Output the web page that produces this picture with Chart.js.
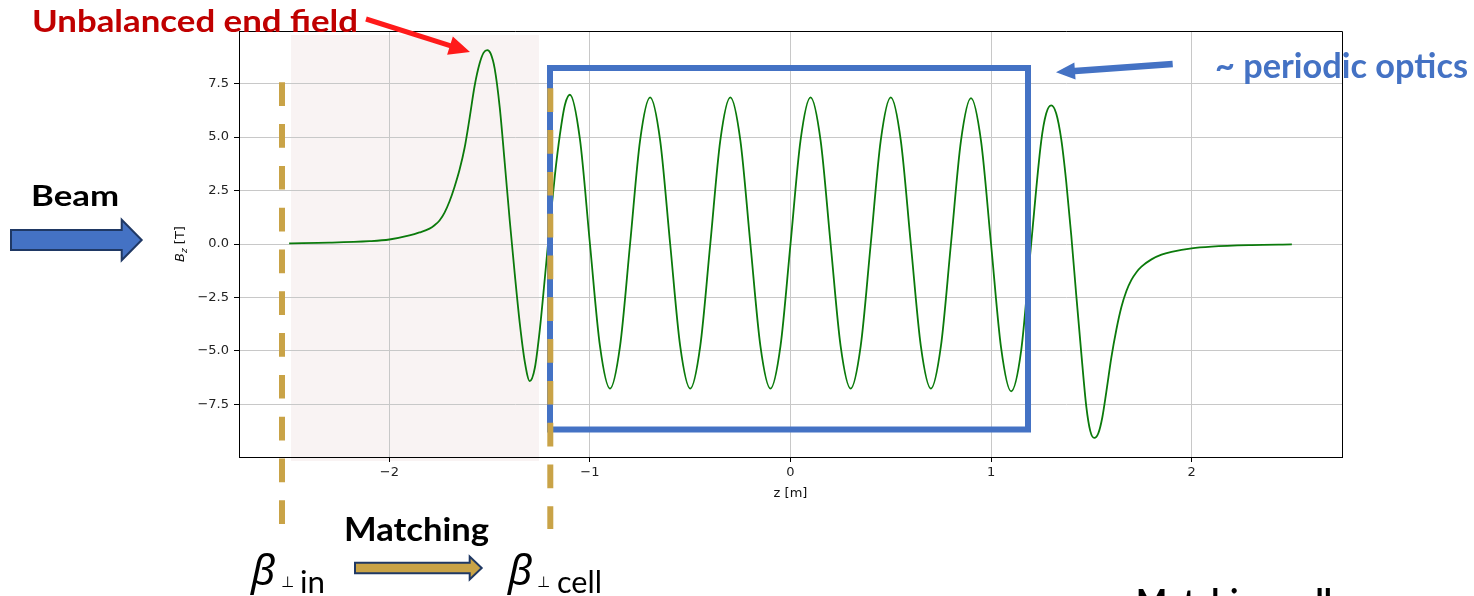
<!DOCTYPE html>
<html>
<head>
<meta charset="utf-8">
<script src="https://cdn.jsdelivr.net/npm/chart.js@4/dist/chart.umd.min.js"></script>
<style>
  html, body { margin: 0; padding: 0; background: #fff; }
  #wrap { width: 1474px; height: 596px; }
</style>
</head>
<body>
<div id="wrap"><canvas id="grafico" width="1474" height="596"></canvas></div>
<script>
// Posições ao longo do eixo [m] //
const zPos = [
  -2.5, -2.3, -2.1, -2.0, -1.9, -1.85, -1.8, -1.775, -1.75, -1.725, -1.7, -1.675, -1.65, -1.625, -1.6,
  -1.575, -1.55, -1.53, -1.512, -1.495, -1.475, -1.45, -1.425, -1.4, -1.375, -1.35, -1.325, -1.3,
  -1.275, -1.25, -1.225, -1.2, -1.175, -1.15, -1.125, -1.1, -1.05,
  -1.0, -0.95, -0.9, -0.85, -0.8, -0.75, -0.7, -0.65, -0.6, -0.55, -0.5, -0.45, -0.4, -0.35, -0.3,
  -0.25, -0.2, -0.15, -0.1, -0.05, 0.0, 0.05, 0.1, 0.15, 0.2, 0.25, 0.3, 0.35, 0.4, 0.45, 0.5, 0.55,
  0.6, 0.65, 0.7, 0.75, 0.8, 0.85, 0.9, 0.95, 1.0, 1.05, 1.1, 1.15, 1.2, 1.25, 1.275, 1.3, 1.325,
  1.35, 1.375, 1.4, 1.425, 1.45, 1.475, 1.495, 1.515, 1.535, 1.555, 1.575, 1.6, 1.625, 1.65, 1.675,
  1.7, 1.725, 1.75, 1.8, 1.85, 1.9, 2.0, 2.1, 2.3, 2.5
];
// Campo Bz [T] //
const bzCampo = [
  0.03, 0.06, 0.13, 0.21, 0.40, 0.54, 0.72, 0.88, 1.1, 1.47, 2.0, 2.68, 3.48, 4.5, 5.9,
  7.4, 8.45, 8.95, 9.07, 8.9, 8.2, 6.4, 3.8, 1.1, -1.4, -3.7, -5.5, -6.41,
  -5.8, -4.0, -1.6, 0.9, 3.2, 5.1, 6.5, 6.98, 4.9,
  0.0, -4.78, -6.76, -4.78, 0.0, 4.85, 6.86, 4.85, 0.0, -4.78, -6.76, -4.78, 0.0, 4.85, 6.86,
  4.85, 0.0, -4.78, -6.76, -4.78, 0.0, 4.85, 6.86, 4.85, 0.0, -4.78, -6.76, -4.78, 0.0, 4.85, 6.86, 4.85,
  0.0, -4.78, -6.76, -4.78, 0.0, 4.82, 6.82, 4.82, 0.0, -4.85, -6.89, -5.0, 0.0, 4.8, 6.1, 6.48, 6.1,
  4.9, 2.9, 0.4, -2.4, -5.1, -7.6, -8.75, -9.07, -8.85, -8.1, -6.9, -5.3, -4.0, -2.95, -2.2,
  -1.68, -1.32, -1.06, -0.72, -0.5, -0.37, -0.2, -0.12, -0.05, -0.02
];
const xTicks = [-2, -1, 0, 1, 2];
const yTicks = [-7.5, -5.0, -2.5, 0.0, 2.5, 5.0, 7.5];

const fonteEixo = { family: 'DejaVu Sans', size: 13 };
function comMenos(s) { return String(s).replace('-', '\u2212'); }

// Texto esticado para uma largura fixa //
function textoLargura(ctx, txt, x, y, w, font, cor) {
  ctx.save();
  ctx.font = font;
  ctx.fillStyle = cor;
  ctx.textBaseline = 'alphabetic';
  ctx.textAlign = 'left';
  const m = ctx.measureText(txt).width;
  ctx.translate(x, y);
  ctx.scale(w / m, 1);
  ctx.fillText(txt, 0, 0);
  ctx.restore();
}

// Seta fina com ponta triangular //
function seta(ctx, x0, y0, x1, y1, larg, compPonta, meiaPonta, cor) {
  const a = Math.atan2(y1 - y0, x1 - x0);
  const L = Math.hypot(x1 - x0, y1 - y0);
  ctx.save();
  ctx.translate(x0, y0);
  ctx.rotate(a);
  ctx.fillStyle = cor;
  ctx.beginPath();
  ctx.moveTo(0, -larg / 2);
  ctx.lineTo(L - compPonta, -larg / 2);
  ctx.lineTo(L - compPonta, -meiaPonta);
  ctx.lineTo(L, 0);
  ctx.lineTo(L - compPonta, meiaPonta);
  ctx.lineTo(L - compPonta, larg / 2);
  ctx.lineTo(0, larg / 2);
  ctx.closePath();
  ctx.fill();
  ctx.restore();
}

// Seta de bloco (com contorno) //
function setaBloco(ctx, x0, x1, yc, meiaHaste, meiaPonta, compPonta, fundo, contorno) {
  ctx.save();
  ctx.beginPath();
  ctx.moveTo(x0, yc - meiaHaste);
  ctx.lineTo(x1 - compPonta, yc - meiaHaste);
  ctx.lineTo(x1 - compPonta, yc - meiaPonta);
  ctx.lineTo(x1, yc);
  ctx.lineTo(x1 - compPonta, yc + meiaPonta);
  ctx.lineTo(x1 - compPonta, yc + meiaHaste);
  ctx.lineTo(x0, yc + meiaHaste);
  ctx.closePath();
  ctx.fillStyle = fundo;
  ctx.fill();
  ctx.lineWidth = 2;
  ctx.strokeStyle = contorno;
  ctx.lineJoin = 'miter';
  ctx.stroke();
  ctx.restore();
}

function tracejado(ctx, x, y0, y1, cor) {
  ctx.save();
  ctx.strokeStyle = cor;
  ctx.lineWidth = 6;
  ctx.setLineDash([23.7, 18.1]);
  ctx.beginPath();
  ctx.moveTo(x, y0);
  ctx.lineTo(x, y1);
  ctx.stroke();
  ctx.restore();
}

const fundoPlugin = {
  id: 'fundo',
  beforeDraw(chart) {
    const ctx = chart.ctx;
    ctx.save();
    ctx.fillStyle = '#ffffff';
    ctx.fillRect(0, 0, chart.width, chart.height);
    // região do campo de borda //
    ctx.fillStyle = '#f9f3f3';
    ctx.fillRect(291, 35, 248, 426);
    ctx.restore();
  }
};

const anotacoes = {
  id: 'anotacoes',
  afterDraw(chart) {
    const ctx = chart.ctx;
    const a = chart.chartArea;
    const azul = '#4472c4';
    const ouro = '#c9a347';
    const marinho = '#1f3864';

    // moldura superior e direita //
    ctx.save();
    ctx.strokeStyle = '#000';
    ctx.lineWidth = 1;
    ctx.beginPath();
    ctx.moveTo(Math.round(a.left) + 0.5, Math.round(a.top) + 0.5);
    ctx.lineTo(Math.round(a.right) + 0.5, Math.round(a.top) + 0.5);
    ctx.lineTo(Math.round(a.right) + 0.5, Math.round(a.bottom) + 0.5);
    ctx.stroke();
    ctx.restore();

    // títulos dos eixos //
    ctx.save();
    ctx.fillStyle = '#111';
    ctx.font = '13px "DejaVu Sans"';
    ctx.textAlign = 'center';
    ctx.textBaseline = 'alphabetic';
    ctx.fillText('z [m]', (a.left + a.right) / 2, 497);
    ctx.translate(184, (a.top + a.bottom) / 2);
    ctx.rotate(-Math.PI / 2);
    ctx.textAlign = 'left';
    const fB = 'italic 13px "DejaVu Sans"', fZ = 'italic 9px "DejaVu Sans"', fT = '13px "DejaVu Sans"';
    ctx.font = fB; const wB = ctx.measureText('B').width;
    ctx.font = fZ; const wZ = ctx.measureText('z').width;
    ctx.font = fT; const wT = ctx.measureText(' [T]').width;
    let x = -(wB + wZ + wT) / 2;
    ctx.font = fB; ctx.fillText('B', x, 0); x += wB;
    ctx.font = fZ; ctx.fillText('z', x, 3); x += wZ;
    ctx.font = fT; ctx.fillText(' [T]', x, 0);
    ctx.restore();

    // caixa da óptica periódica //
    ctx.save();
    ctx.strokeStyle = azul;
    ctx.lineWidth = 6;
    ctx.strokeRect(550, 68, 478, 361.5);
    ctx.restore();

    // linhas tracejadas de casamento //
    tracejado(ctx, 282, 82.3, 524, ouro);
    tracejado(ctx, 550.3, 88.3, 529, ouro);

    // setas //
    seta(ctx, 366, 19, 470, 52, 5, 21, 9.5, '#ff1a1a');
    seta(ctx, 1172.7, 64, 1056, 72.3, 6.5, 19, 8.5, azul);
    setaBloco(ctx, 11, 141.7, 240, 10, 20.3, 20, azul, marinho);
    setaBloco(ctx, 355, 481.7, 568, 5.3, 11.5, 12, ouro, marinho);

    // textos //
    textoLargura(ctx, 'Unbalanced end field', 32, 31.5, 326, 'bold 31px Lato', '#c00000');
    textoLargura(ctx, '~ periodic optics', 1215, 78, 253, 'bold 35px Lato', azul);
    textoLargura(ctx, 'Beam', 31, 206, 88, 'bold 29px Lato', '#000');
    textoLargura(ctx, 'Matching', 344, 541, 145, 'bold 32px Lato', '#000');
    textoLargura(ctx, 'Matching cell', 1136, 614, 196, 'bold 34px Lato', '#000');

    ctx.save();
    ctx.fillStyle = '#000';
    ctx.textBaseline = 'alphabetic';
    ctx.font = 'italic 42px "Noto Sans"';
    ctx.fillText('\u03b2', 251, 585);
    ctx.fillText('\u03b2', 508, 585);
    ctx.font = '15px "DejaVu Sans"';
    ctx.fillText('\u22a5', 281, 587);
    ctx.fillText('\u22a5', 537, 587);
    ctx.restore();
    textoLargura(ctx, 'in', 300, 593, 25, '30px Lato', '#000');
    textoLargura(ctx, 'cell', 557, 593, 45, '30px Lato', '#000');
  }
};

const dados = {
  datasets: [{
    label: 'Bz',
    data: zPos.map((z, i) => ({ x: z, y: bzCampo[i] })),
    borderColor: '#0b7a0b',
    borderWidth: 1.8,
    pointRadius: 0,
    fill: false,
    cubicInterpolationMode: 'monotone'
  }]
};

const config = {
  type: 'line',
  data: dados,
  options: {
    responsive: false,
    animation: false,
    layout: { padding: { left: 179, right: 132, top: 31, bottom: 99 } },
    plugins: { legend: { display: false }, tooltip: { enabled: false } },
    scales: {
      x: {
        type: 'linear',
        min: -2.75,
        max: 2.75,
        afterBuildTicks: s => { s.ticks = xTicks.map(v => ({ value: v })); },
        afterFit: s => { s.height = 40; },
        ticks: { callback: v => comMenos(v), font: fonteEixo, color: '#222', padding: 3, maxRotation: 0, autoSkip: false },
        grid: { color: '#c8c8c8', lineWidth: 1, tickColor: '#000', tickLength: 5 },
        border: { color: '#000', width: 1 }
      },
      y: {
        min: -9.96,
        max: 9.96,
        afterBuildTicks: s => { s.ticks = yTicks.map(v => ({ value: v })); },
        afterFit: s => { s.width = 60; },
        ticks: { callback: v => comMenos(v.toFixed(1)), font: fonteEixo, color: '#222', padding: 5 },
        grid: { color: '#c8c8c8', lineWidth: 1, tickColor: '#000', tickLength: 5 },
        border: { color: '#000', width: 1 }
      }
    }
  },
  plugins: [fundoPlugin, anotacoes]
};

var grafico = new Chart(document.getElementById('grafico'), config);
</script>
</body>
</html>
